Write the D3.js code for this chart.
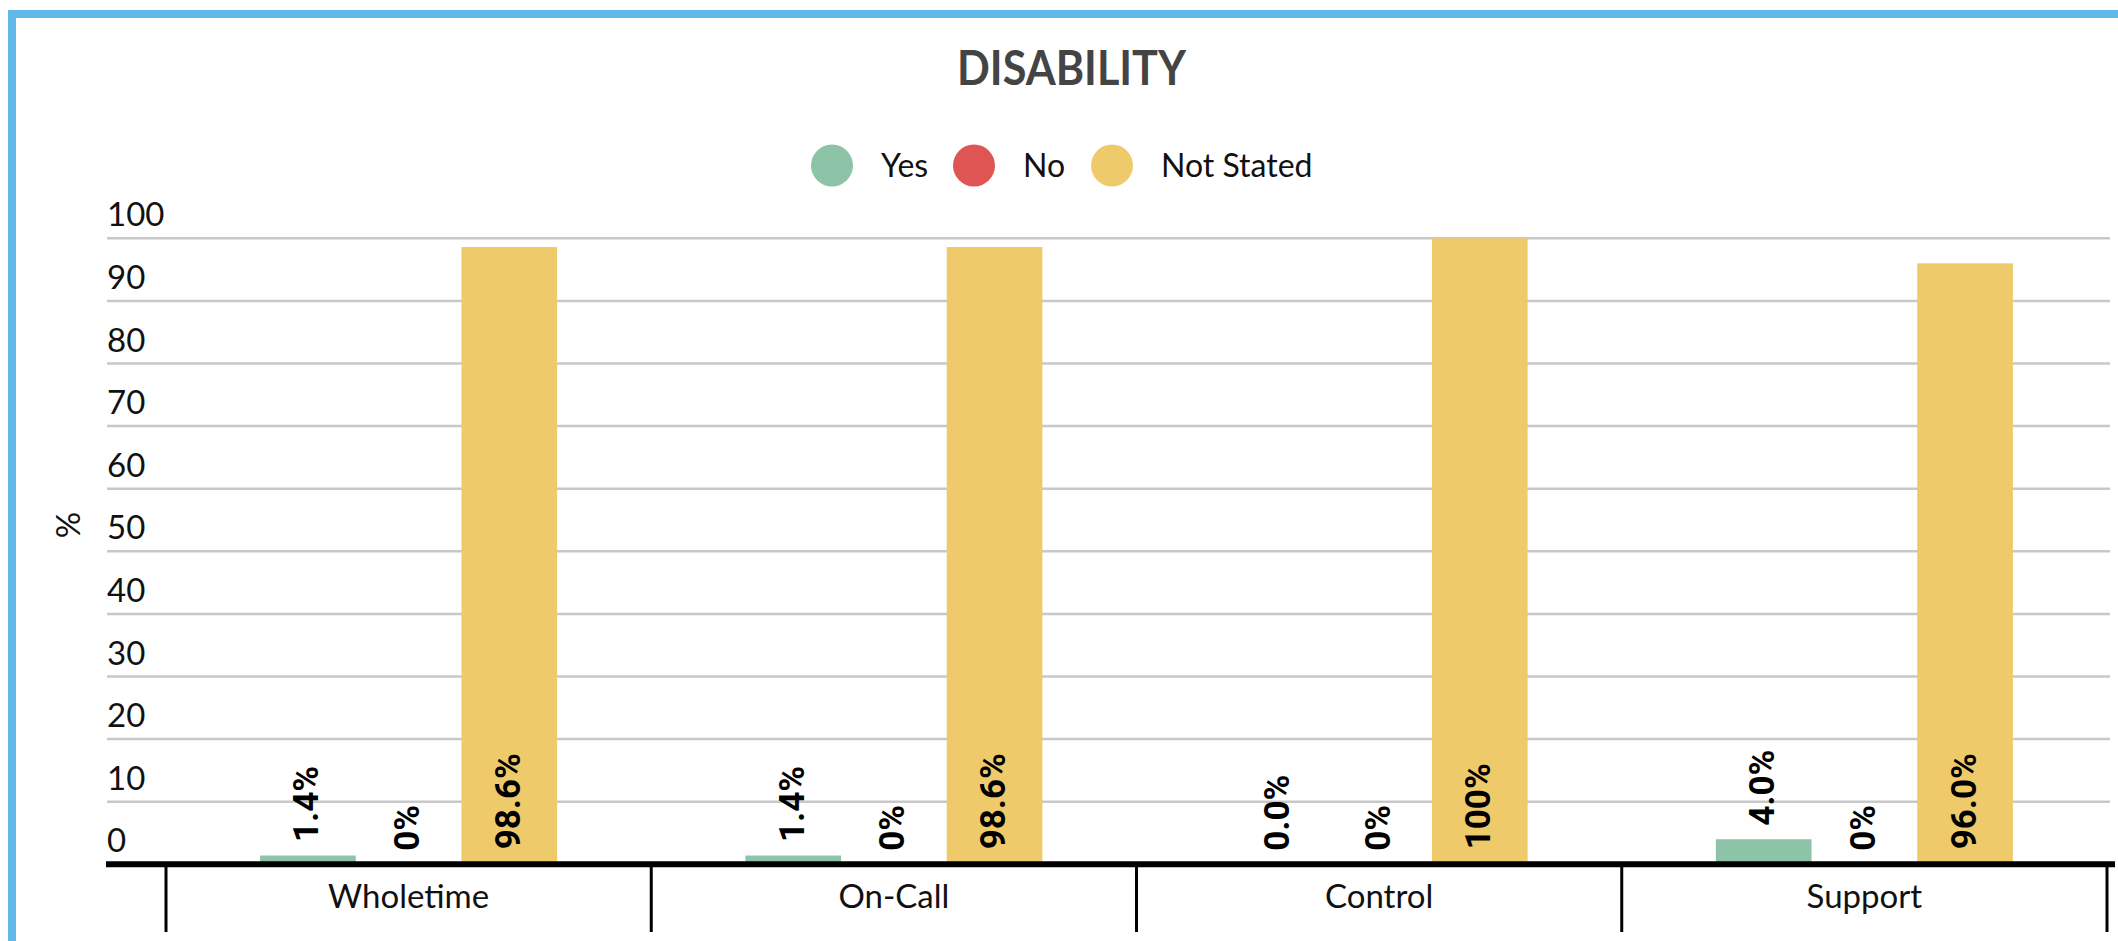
<!DOCTYPE html>
<html>
<head>
<meta charset="utf-8">
<script src="https://cdn.jsdelivr.net/npm/d3@7"></script>
<style>
  html, body { margin: 0; padding: 0; background: #fff; overflow: hidden; }
  svg { display: block; }
</style>
</head>
<body>
<svg id="chart" width="2118" height="941"></svg>
<script>
// ---- data ----
const categories = ["Wholetime", "On-Call", "Control", "Support"];
const seriesNames = ["Yes", "No", "Not Stated"];
const seriesColors = ["#8DC3A7", "#DE5554", "#EFCA6A"];
const yesValues = [1.4, 1.4, 0.0, 4.0];
const noValues = [0, 0, 0, 0];
const notStatedValues = [98.6, 98.6, 100, 96.0];
const yesLabels = ["1.4%", "1.4%", "0.0%", "4.0%"];
const noLabels = ["0%", "0%", "0%", "0%"];
const notStatedLabels = ["98.6%", "98.6%", "100%", "96.0%"];
const yTicks = [0, 10, 20, 30, 40, 50, 60, 70, 80, 90, 100];
const chartTitle = "DISABILITY";
const yAxisTitle = "%";

const seriesValues = [yesValues, noValues, notStatedValues];
const seriesLabels = [yesLabels, noLabels, notStatedLabels];

const svg = d3.select("#chart");
const W = 2118, H = 941;

// container frame
svg.append("rect")
  .attr("x", 12).attr("y", 14)
  .attr("width", W + 40).attr("height", H + 40)
  .attr("fill", "#fff")
  .attr("stroke", "#62B8E6").attr("stroke-width", 8);

// scales
const x0 = d3.scaleBand().domain(categories).range([166, 2107]).padding(0);
const x1 = d3.scaleBand().domain(seriesNames).range([0, x0.bandwidth()])
  .paddingInner(0.05).paddingOuter(0.935);
const y = d3.scaleLinear().domain([0, 100]).range([864.3, 238.3]);

const labelFont = "Lato, 'Open Sans', sans-serif";

// title
svg.append("text")
  .attr("x", 1071.5).attr("y", 85)
  .attr("text-anchor", "middle")
  .attr("font-family", labelFont)
  .attr("font-weight", 700)
  .attr("font-size", 48)
  .attr("fill", "#444")
  .attr("textLength", 229)
  .attr("lengthAdjust", "spacingAndGlyphs")
  .text(chartTitle);

// legend
const legendX = [832, 974, 1112];
const legend = svg.append("g");
seriesNames.forEach((s, i) => {
  legend.append("circle")
    .attr("cx", legendX[i]).attr("cy", 165.5).attr("r", 21)
    .attr("fill", seriesColors[i]);
  legend.append("text")
    .attr("x", legendX[i] + 49).attr("y", 177)
    .attr("font-family", labelFont)
    .attr("font-size", 32)
    .attr("fill", "#111")
    .text(s);
});

// gridlines
svg.append("g")
  .selectAll("line")
  .data(yTicks.filter(t => t > 0))
  .join("line")
  .attr("x1", 107).attr("x2", 2110)
  .attr("y1", d => y(d)).attr("y2", d => y(d))
  .attr("stroke", "#c8c8c8").attr("stroke-width", 2.5);

// y tick labels (above gridlines, left aligned)
svg.append("g")
  .selectAll("text")
  .data(yTicks)
  .join("text")
  .attr("x", 107)
  .attr("y", d => y(d) - 12)
  .attr("font-family", labelFont)
  .attr("font-size", 33)
  .attr("fill", "#111")
  .text(d => d);

// y axis title
svg.append("text")
  .attr("transform", "translate(67,525) rotate(-90)")
  .attr("text-anchor", "middle")
  .attr("dominant-baseline", "central")
  .attr("font-family", labelFont)
  .attr("font-size", 33)
  .attr("fill", "#111")
  .text(yAxisTitle);

// bars
const groups = svg.append("g")
  .selectAll("g")
  .data(categories)
  .join("g")
  .attr("transform", d => `translate(${x0(d)},0)`);

groups.each(function (cat, ci) {
  const g = d3.select(this);
  seriesNames.forEach((s, si) => {
    const v = seriesValues[si][ci];
    g.append("rect")
      .attr("x", x1(s))
      .attr("y", y(v))
      .attr("width", x1.bandwidth())
      .attr("height", y(0) - y(v))
      .attr("fill", seriesColors[si]);
  });
});

// x axis
const xAxis = d3.axisBottom(x0).tickSize(0).tickPadding(0);
const xg = svg.append("g").attr("transform", `translate(0,${y(0)})`).call(xAxis);
xg.select(".domain").remove();
xg.selectAll(".tick text")
  .attr("y", 44)
  .attr("dy", 0)
  .attr("font-family", labelFont)
  .attr("font-size", 33)
  .attr("fill", "#111");
// group separator ticks
const sepX = categories.map(c => x0(c)).concat([x0.range()[1]]);
svg.append("g")
  .selectAll("line")
  .data(sepX)
  .join("line")
  .attr("x1", d => d).attr("x2", d => d)
  .attr("y1", y(0)).attr("y2", 932)
  .attr("stroke", "#000").attr("stroke-width", 3);
svg.append("line")
  .attr("x1", 106).attr("x2", 2115)
  .attr("y1", y(0)).attr("y2", y(0))
  .attr("stroke", "#000").attr("stroke-width", 6);

// value labels
groups.each(function (cat, ci) {
  const g = d3.select(this);
  seriesNames.forEach((s, si) => {
    const v = seriesValues[si][ci];
    const cx = x1(s) + x1.bandwidth() / 2;
    const ly = v > 50 ? y(0) - 15 : y(v) - 13.5;
    g.append("text")
      .attr("transform", `translate(${cx - 1},${ly}) rotate(-90)`)
      .attr("text-anchor", "start")
      .attr("dominant-baseline", "central")
      .attr("font-family", "Roboto, 'Liberation Sans', sans-serif")
      .attr("font-weight", 700)
      .attr("font-size", 35)
      .attr("fill", "#000")
      .text(seriesLabels[si][ci]);
  });
});
</script>
</body>
</html>
